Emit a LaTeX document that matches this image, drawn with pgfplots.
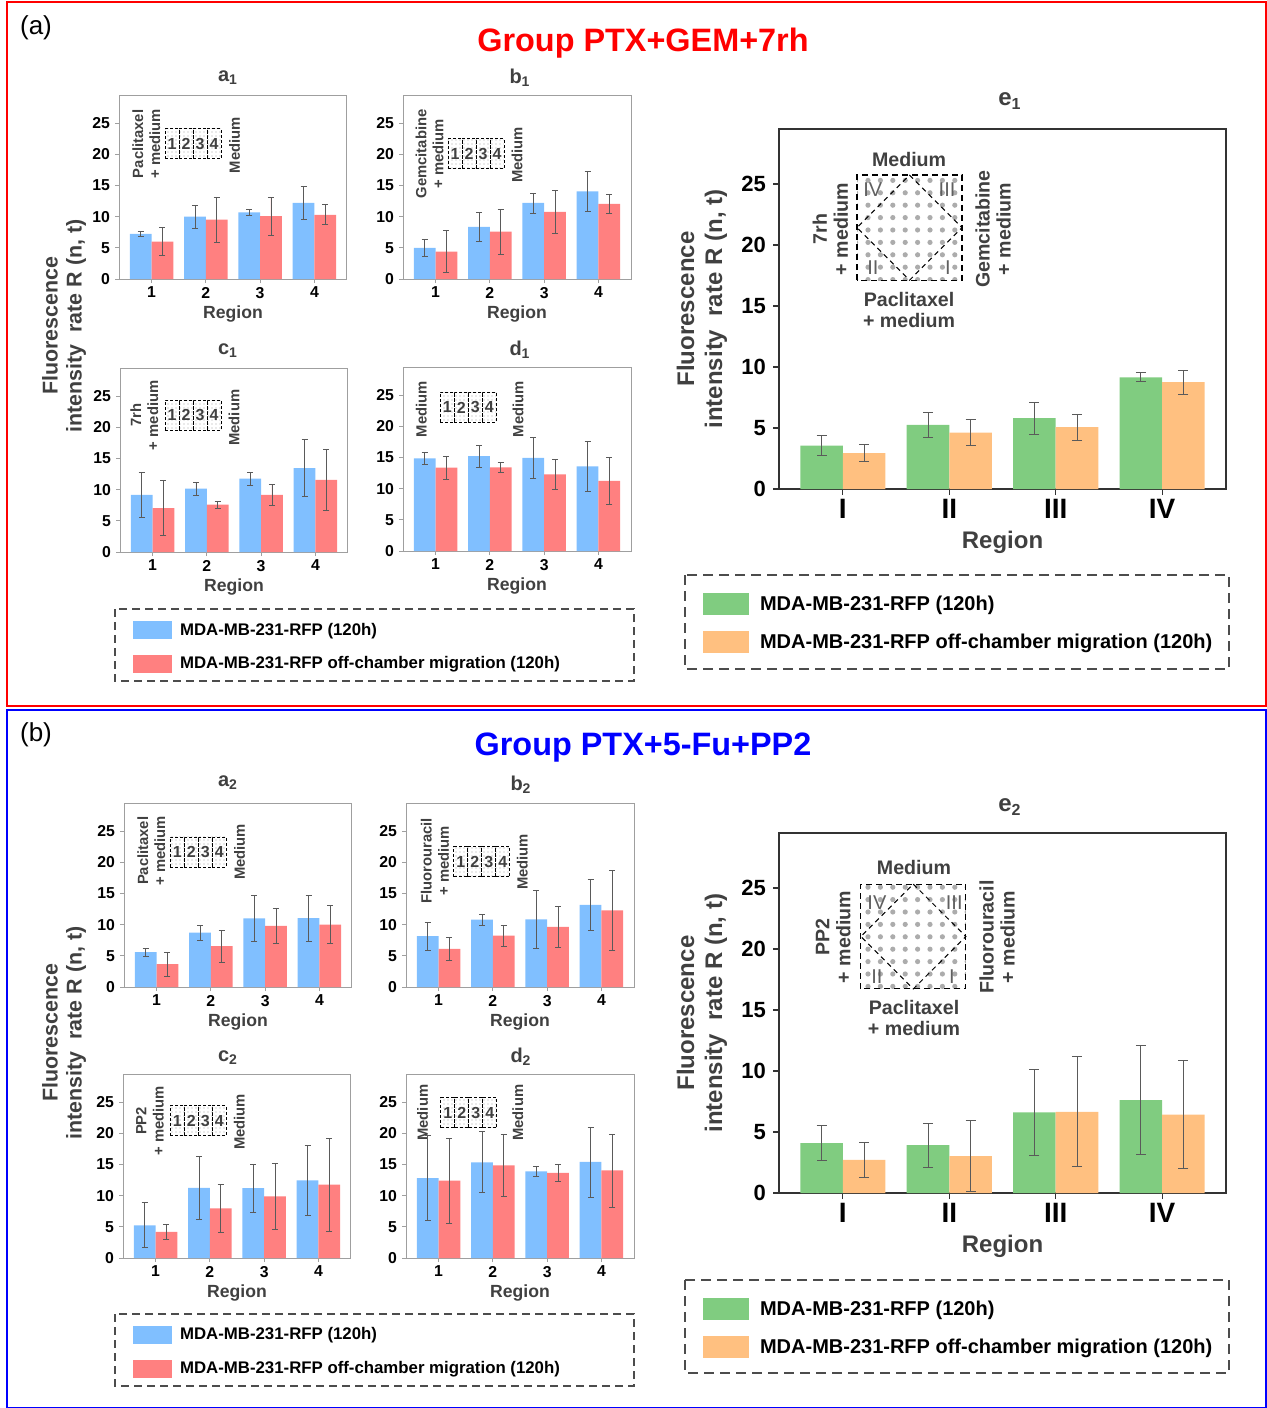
\documentclass[border=0pt]{standalone}
\usepackage{fontspec}
\setmainfont{Liberation Sans}
\usepackage{pgfplots}
\pgfplotsset{compat=1.18}
\usetikzlibrary{patterns.meta}

\definecolor{cblue}{RGB}{128,191,255}
\definecolor{cred}{RGB}{255,128,128}
\definecolor{cgreen}{RGB}{128,204,128}
\definecolor{corange}{RGB}{255,192,128}
\definecolor{txt}{RGB}{64,64,64}
\definecolor{errc}{RGB}{90,90,90}

\pgfplotsset{
  barbase/.style={
    scale only axis, anchor=north west,
    xmin=0.4, xmax=4.6, ymin=0, ymax=29.5,
    ytick={0,5,10,15,20,25}, xtick={1,2,3,4},
    xtick pos=bottom, ytick pos=left, tick align=outside,
    /pgf/number format/assume math mode=true,
    ybar, bar width=0.4,
    xlabel={Region},
  },
  smallbar/.style={barbase, width=114pt, height=92pt,
    axis line style={draw=gray!75, line width=0.5pt},
    major tick length=2pt,
    tick style={draw=gray!75, line width=0.5pt},
    tick label style={font=\bfseries\fontsize{7.9}{8}\selectfont, text=black},
    yticklabel style={xshift=1pt},
    xticklabel style={yshift=1.5pt},
    xlabel style={font=\bfseries\fontsize{8.8}{10}\selectfont, text=txt, yshift=3pt},
  },
  bigbar/.style={barbase, width=223.5pt, height=180pt,
    axis line style={draw=black!80, line width=0.6pt},
    major tick length=3pt,
    tick style={draw=black!80, line width=0.6pt},
    yticklabel style={font=\bfseries\fontsize{11}{12}\selectfont, text=black},
    xticklabel style={font=\bfseries\fontsize{14}{14}\selectfont, text=black, yshift=1.5pt},
    xticklabels={I,II,III,IV},
    xlabel style={font=\bfseries\fontsize{12}{13}\selectfont, text=txt, yshift=0.5pt},
  },
  serr/.style={error bars/.cd, y dir=both, y explicit,
    error bar style={draw=errc, line width=0.35pt},
    error mark options={rotate=90, mark size=1.5pt, draw=errc, line width=0.35pt}},
  berr/.style={error bars/.cd, y dir=both, y explicit,
    error bar style={draw=errc, line width=0.45pt},
    error mark options={rotate=90, mark size=2.5pt, draw=errc, line width=0.45pt}},
}
\tikzset{
  cell/.style={draw=black, dash pattern=on 1.5pt off 1pt, line width=0.45pt,
    pattern={Dots[radius=0.35pt,distance=2pt]}, pattern color=gray!70,
    minimum width=7pt, minimum height=15pt, inner sep=0pt,
    font=\bfseries\fontsize{8}{8}\selectfont, text=txt},
  rtxt/.style={rotate=90, align=center, font=\bfseries\fontsize{7.4}{8.5}\selectfont, text=txt},
  btxt/.style={align=center, font=\bfseries\fontsize{9.8}{10.5}\selectfont, text=txt},
  roman/.style={font=\fontsize{10}{10}\selectfont, text=gray!75!black},
}

% small inset: cell strip centred at rel (#1,#2)
\newcommand{\cells}[2]{%
  \node[cell, xshift=-10.5pt] at (rel axis cs:#1,#2) {1};
  \node[cell, xshift=-3.5pt] at (rel axis cs:#1,#2) {2};
  \node[cell, xshift=3.5pt] at (rel axis cs:#1,#2) {3};
  \node[cell, xshift=10.5pt] at (rel axis cs:#1,#2) {4};
}
% big inset: box from rel (#1,#2) to (#3,#4)
\newcommand{\bigbox}[4]{%
  \fill[pattern={Dots[radius=1.3pt,distance=6.2pt]}, pattern color=gray!65] (rel axis cs:#1,#2) rectangle (rel axis cs:#3,#4);
  \draw[black, dash pattern=on 3pt off 2pt, line width=0.6pt] (rel axis cs:#1,#2) rectangle (rel axis cs:#3,#4);
  \draw[black, dash pattern=on 2.5pt off 2pt, line width=0.5pt]
    (rel axis cs:{(#1+#3)/2},#4) -- (rel axis cs:#3,{(#2+#4)/2}) -- (rel axis cs:{(#1+#3)/2},#2) -- (rel axis cs:#1,{(#2+#4)/2}) -- cycle;
}

\begin{document}
\begin{tikzpicture}[x=0.5pt,y=-0.5pt]
\useasboundingbox (0,0) rectangle (1267,1408);
\draw[red, line width=0.6pt] (7,2) rectangle (1266,706);
\draw[blue, line width=0.6pt] (7,710) rectangle (1266,1407.5);
\node[font=\fontsize{13}{13}\selectfont] at (36,28) {(a)};
\node[font=\fontsize{13}{13}\selectfont] at (36,735) {(b)};
\node[font=\bfseries\fontsize{16.2}{17}\selectfont, text=red] at (643,43) {Group PTX+GEM+7rh};
\node[font=\bfseries\fontsize{16.2}{17}\selectfont, text=blue] at (643,748) {Group PTX+5-Fu+PP2};

% subtitles
\begin{scope}[every node/.style={font=\bfseries\fontsize{10}{10}\selectfont, text=txt}]
\node at (228,78) {a\textsubscript{1}};
\node at (520,78) {b\textsubscript{1}};
\node at (228,351) {c\textsubscript{1}};
\node at (520,350) {d\textsubscript{1}};
\node at (228,783) {a\textsubscript{2}};
\node at (521,785) {b\textsubscript{2}};
\node at (228,1058) {c\textsubscript{2}};
\node at (521,1057) {d\textsubscript{2}};
\end{scope}
\node[font=\bfseries\fontsize{12}{12}\selectfont, text=txt] at (1010,101) {e\textsubscript{1}};
\node[font=\bfseries\fontsize{12}{12}\selectfont, text=txt] at (1010,807) {e\textsubscript{2}};

% shared y labels
\node[rotate=90, align=center, font=\bfseries\fontsize{10.7}{12}\selectfont, text=txt] at (64,326) {Fluorescence\\intensity~~rate R (n, t)};
\node[rotate=90, align=center, font=\bfseries\fontsize{10.7}{12}\selectfont, text=txt] at (64,1033) {Fluorescence\\intensity~~rate R (n, t)};
\node[rotate=90, align=center, font=\bfseries\fontsize{12}{14}\selectfont, text=txt] at (702,309) {Fluorescence\\intensity~~rate R (n, t)};
\node[rotate=90, align=center, font=\bfseries\fontsize{12}{14}\selectfont, text=txt] at (702,1013) {Fluorescence\\intensity~~rate R (n, t)};

% ---------- a1
\begin{axis}[smallbar, at={(119*0.5pt,-95*0.5pt)}]
\node[rtxt] at (rel axis cs:0.12,0.734) {Paclitaxel\\+ medium};
\cells{0.325}{0.734}
\node[rtxt] at (rel axis cs:0.507,0.728) {Medium};
\addplot[fill=cblue, draw=none, bar shift=-0.2, serr] coordinates {(1,7.25) +- (0,0.45) (2,10.0) +- (0,1.8) (3,10.7) +- (0,0.45) (4,12.2) +- (0,2.6)};
\addplot[fill=cred, draw=none, bar shift=0.2, serr] coordinates {(1,6.0) +- (0,2.25) (2,9.5) +- (0,3.65) (3,10.1) +- (0,3.05) (4,10.3) +- (0,1.6)};
\end{axis}
% ---------- b1
\begin{axis}[smallbar, at={(403*0.5pt,-95*0.5pt)}]
\node[rtxt] at (rel axis cs:0.117,0.68) {Gemcitabine\\+ medium};
\cells{0.32}{0.68}
\node[rtxt] at (rel axis cs:0.5,0.674) {Medium};
\addplot[fill=cblue, draw=none, bar shift=-0.2, serr] coordinates {(1,5.0) +- (0,1.4) (2,8.35) +- (0,2.3) (3,12.2) +- (0,1.6) (4,14.05) +- (0,3.2)};
\addplot[fill=cred, draw=none, bar shift=0.2, serr] coordinates {(1,4.4) +- (0,3.4) (2,7.6) +- (0,3.6) (3,10.75) +- (0,3.4) (4,12.05) +- (0,1.6)};
\end{axis}
% ---------- c1
\begin{axis}[smallbar, at={(120*0.5pt,-368*0.5pt)}]
\node[rtxt] at (rel axis cs:0.107,0.743) {7rh\\+ medium};
\cells{0.32}{0.743}
\node[rtxt] at (rel axis cs:0.5,0.73) {Medium};
\addplot[fill=cblue, draw=none, bar shift=-0.2, serr] coordinates {(1,9.15) +- (0,3.55) (2,10.15) +- (0,1.0) (3,11.75) +- (0,1.0) (4,13.45) +- (0,4.6)};
\addplot[fill=cred, draw=none, bar shift=0.2, serr] coordinates {(1,7.05) +- (0,4.4) (2,7.6) +- (0,0.55) (3,9.15) +- (0,1.75) (4,11.55) +- (0,4.9)};
\end{axis}
% ---------- d1
\begin{axis}[smallbar, at={(403*0.5pt,-367*0.5pt)}]
\node[rtxt] at (rel axis cs:0.08,0.77) {Medium};
\cells{0.287}{0.78}
\node[rtxt] at (rel axis cs:0.505,0.77) {Medium};
\addplot[fill=cblue, draw=none, bar shift=-0.2, serr] coordinates {(1,14.85) +- (0,1.0) (2,15.2) +- (0,1.75) (3,14.95) +- (0,3.3) (4,13.55) +- (0,4.0)};
\addplot[fill=cred, draw=none, bar shift=0.2, serr] coordinates {(1,13.35) +- (0,1.8) (2,13.4) +- (0,0.8) (3,12.3) +- (0,2.4) (4,11.25) +- (0,3.7)};
\end{axis}
% ---------- a2
\begin{axis}[smallbar, at={(124*0.5pt,-803*0.5pt)}]
\node[rtxt] at (rel axis cs:0.12,0.74) {Paclitaxel\\+ medium};
\cells{0.326}{0.734}
\node[rtxt] at (rel axis cs:0.507,0.734) {Medium};
\addplot[fill=cblue, draw=none, bar shift=-0.2, serr] coordinates {(1,5.6) +- (0,0.65) (2,8.7) +- (0,1.2) (3,11.0) +- (0,3.75) (4,11.05) +- (0,3.7)};
\addplot[fill=cred, draw=none, bar shift=0.2, serr] coordinates {(1,3.65) +- (0,1.9) (2,6.55) +- (0,2.55) (3,9.8) +- (0,2.85) (4,10.0) +- (0,3.05)};
\end{axis}
% ---------- b2
\begin{axis}[smallbar, at={(406*0.5pt,-803*0.5pt)}]
\node[rtxt] at (rel axis cs:0.127,0.685) {Fluorouracil\\+ medium};
\cells{0.333}{0.68}
\node[rtxt] at (rel axis cs:0.51,0.68) {Medium};
\addplot[fill=cblue, draw=none, bar shift=-0.2, serr] coordinates {(1,8.15) +- (0,2.25) (2,10.8) +- (0,0.9) (3,10.85) +- (0,4.6) (4,13.15) +- (0,4.05)};
\addplot[fill=cred, draw=none, bar shift=0.2, serr] coordinates {(1,6.1) +- (0,1.85) (2,8.25) +- (0,1.7) (3,9.65) +- (0,3.3) (4,12.3) +- (0,6.4)};
\end{axis}
% ---------- c2
\begin{axis}[smallbar, at={(123*0.5pt,-1074*0.5pt)}]
\node[rtxt] at (rel axis cs:0.118,0.745) {PP2\\+ medium};
\cells{0.33}{0.745}
\node[rtxt] at (rel axis cs:0.51,0.74) {Medium};
\addplot[fill=cblue, draw=none, bar shift=-0.2, serr] coordinates {(1,5.25) +- (0,3.6) (2,11.25) +- (0,5.0) (3,11.2) +- (0,3.85) (4,12.45) +- (0,5.65)};
\addplot[fill=cred, draw=none, bar shift=0.2, serr] coordinates {(1,4.2) +- (0,1.25) (2,7.95) +- (0,3.9) (3,9.9) +- (0,5.3) (4,11.75) +- (0,7.4)};
\end{axis}
% ---------- d2
\begin{axis}[smallbar, at={(406*0.5pt,-1074*0.5pt)}]
\node[rtxt] at (rel axis cs:0.073,0.79) {Medium};
\cells{0.276}{0.79}
\node[rtxt] at (rel axis cs:0.49,0.79) {Medium};
\addplot[fill=cblue, draw=none, bar shift=-0.2, serr] coordinates {(1,12.8) +- (0,6.8) (2,15.35) +- (0,4.9) (3,13.9) +- (0,0.8) (4,15.4) +- (0,5.6)};
\addplot[fill=cred, draw=none, bar shift=0.2, serr] coordinates {(1,12.4) +- (0,6.85) (2,14.85) +- (0,4.9) (3,13.65) +- (0,1.4) (4,14.05) +- (0,5.85)};
\end{axis}

% ---------- e1
\begin{axis}[bigbar, at={(779*0.5pt,-129*0.5pt)}]
\bigbox{0.1745}{0.58}{0.4094}{0.872}
\node[roman] at (rel axis cs:0.21,0.831) {IV};
\node[roman] at (rel axis cs:0.376,0.831) {III};
\node[roman] at (rel axis cs:0.21,0.614) {II};
\node[roman] at (rel axis cs:0.378,0.614) {I};
\node[btxt] at (rel axis cs:0.291,0.914) {Medium};
\node[btxt] at (rel axis cs:0.291,0.497) {Paclitaxel\\+ medium};
\node[btxt, rotate=90] at (rel axis cs:0.115,0.722) {7rh\\+ medium};
\node[btxt, rotate=90] at (rel axis cs:0.479,0.722) {Gemcitabine\\+ medium};
\addplot[fill=cgreen, draw=none, bar shift=-0.2, berr] coordinates {(1,3.55) +- (0,0.83) (2,5.25) +- (0,1.05) (3,5.8) +- (0,1.3) (4,9.15) +- (0,0.37)};
\addplot[fill=corange, draw=none, bar shift=0.2, berr] coordinates {(1,2.95) +- (0,0.68) (2,4.63) +- (0,1.1) (3,5.07) +- (0,1.08) (4,8.75) +- (0,0.98)};
\end{axis}
% ---------- e2
\begin{axis}[bigbar, at={(779*0.5pt,-833*0.5pt)}]
\bigbox{0.183}{0.567}{0.418}{0.858}
\node[roman] at (rel axis cs:0.219,0.808) {IV};
\node[roman] at (rel axis cs:0.392,0.808) {III};
\node[roman] at (rel axis cs:0.219,0.6) {II};
\node[roman] at (rel axis cs:0.387,0.6) {I};
\node[btxt] at (rel axis cs:0.302,0.903) {Medium};
\node[btxt] at (rel axis cs:0.302,0.486) {Paclitaxel\\+ medium};
\node[btxt, rotate=90] at (rel axis cs:0.121,0.711) {PP2\\+ medium};
\node[btxt, rotate=90] at (rel axis cs:0.488,0.711) {Fluorouracil\\+ medium};
\addplot[fill=cgreen, draw=none, bar shift=-0.2, berr] coordinates {(1,4.08) +- (0,1.45) (2,3.93) +- (0,1.8) (3,6.6) +- (0,3.5) (4,7.62) +- (0,4.45)};
\addplot[fill=corange, draw=none, bar shift=0.2, berr] coordinates {(1,2.72) +- (0,1.43) (2,3.03) +- (0,2.92) (3,6.65) +- (0,4.5) (4,6.42) +- (0,4.43)};
\end{axis}

% ---------- legends
\begin{scope}[every node/.style={anchor=west, font=\bfseries\fontsize{8.4}{9}\selectfont}]
\draw[gray!60!black, dash pattern=on 4pt off 2.5pt, line width=0.6pt] (115,609) rectangle (634,681);
\fill[cblue] (133,621) rectangle (172,639);
\fill[cred] (133,655) rectangle (172,673);
\node at (173,631) {MDA-MB-231-RFP (120h)};
\node at (173,664) {MDA-MB-231-RFP off-chamber migration (120h)};
\draw[gray!60!black, dash pattern=on 4pt off 2.5pt, line width=0.6pt] (115,1314) rectangle (634,1386);
\fill[cblue] (133,1326) rectangle (172,1344);
\fill[cred] (133,1360) rectangle (172,1378);
\node at (173,1335) {MDA-MB-231-RFP (120h)};
\node at (173,1369) {MDA-MB-231-RFP off-chamber migration (120h)};
\end{scope}
\begin{scope}[every node/.style={anchor=west, font=\bfseries\fontsize{10}{11}\selectfont}]
\draw[gray!60!black, dash pattern=on 5pt off 3pt, line width=0.6pt] (685,575) rectangle (1229,669);
\fill[cgreen] (703,593) rectangle (749,615);
\fill[corange] (703,631) rectangle (749,653);
\node at (753,605) {MDA-MB-231-RFP (120h)};
\node at (753,643) {MDA-MB-231-RFP off-chamber migration (120h)};
\draw[gray!60!black, dash pattern=on 5pt off 3pt, line width=0.6pt] (685,1280) rectangle (1229,1373);
\fill[cgreen] (703,1298) rectangle (749,1320);
\fill[corange] (703,1336) rectangle (749,1358);
\node at (753,1310) {MDA-MB-231-RFP (120h)};
\node at (753,1348) {MDA-MB-231-RFP off-chamber migration (120h)};
\end{scope}
\end{tikzpicture}
\end{document}
